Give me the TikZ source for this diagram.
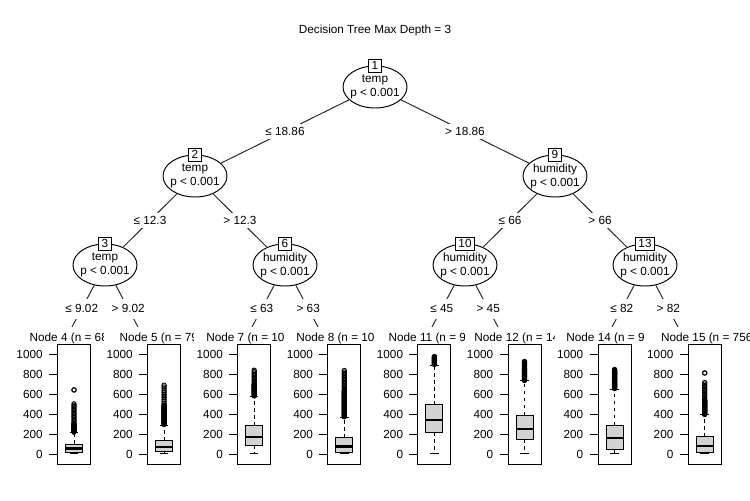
\documentclass[tikz,border=0pt]{standalone}
\usepackage{fontspec}
\setmainfont{Liberation Sans}
\usetikzlibrary{shapes.geometric}
\definecolor{boxgray}{RGB}{211,211,211}
\tikzset{
  split/.style={ellipse, draw, fill=white, line width=0.55pt, minimum width=1.28cm, minimum height=0.84cm, inner xsep=-1.5pt, inner ysep=0pt, align=center},
  idbox/.style={draw, fill=white, line width=0.55pt, inner xsep=1.6pt, inner ysep=0pt, minimum height=0.26cm, minimum width=0.26cm},
  elabel/.style={fill=white, inner xsep=1pt, inner ysep=0pt, minimum height=0.3cm},
  llabel/.style={elabel, minimum height=0.4cm},
  wire/.style={draw=black!85, line width=0.55pt},
  frame/.style={line width=0.5pt},
  whisk/.style={line width=0.5pt, dash pattern=on 2pt off 2pt},
  head/.style={inner sep=0pt, anchor=base west},
  ticklab/.style={inner sep=0pt, anchor=east},
}
% #1 node, #2 centre x, #3 header start, #4 header, #5 q1, #6 median, #7 q3, #8 upper whisker
\newcommand{\leafpanel}[8]{%
  \begin{scope}[shift={(#2,0)}]
    \fill[white] (-60,327) rectangle (30,480);
    \node[head] (head#1) at (#3,341) {#4};
    \draw[frame] (-16.5,344) rectangle (16.5,464);
    \foreach \yt in {0,200,...,1000}{
      \draw[frame] (-25,{454-\yt/10}) -- (-16.5,{454-\yt/10});
      \node[ticklab] (lab#1-\yt) at (-31,{454-\yt/10}) {\yt};
    }
    \draw[whisk] (0,{454-#7/10}) -- (0,{454-#8/10});
    \draw[whisk] (0,{454-#5/10}) -- (0,453.9);
    \draw[frame] (-4.25,{454-#8/10}) -- (4.25,{454-#8/10});
    \draw[frame] (-4.25,453.9) -- (4.25,453.9);
    \filldraw[frame, fill=boxgray] (-8.5,{454-#7/10}) rectangle (8.5,{454-#5/10});
    \draw[line width=1.2pt] (-8.5,{454-#6/10}) -- (8.5,{454-#6/10});
  \end{scope}}
% outliers: centre x, first, second, last
\newcommand{\outl}[4]{%
  \foreach \ov in {#2,#3,...,#4}
    \draw[frame] (#1,{454-\ov/10}) circle (0.044cm);}
\begin{document}
\begin{tikzpicture}[x=0.02cm, y=-0.02cm, font=\fontsize{6.7}{7.97}\selectfont]
  \useasboundingbox (0,0) rectangle (750,500);
  \node[anchor=base, inner sep=0pt] (title) at (375,34) {Decision Tree Max Depth = 3};

  % inner nodes
  \node[split] (n1) at (375,87) {temp\\p < 0.001};
  \node[split] (n2) at (195,176) {temp\\p < 0.001};
  \node[split] (n3) at (105,265) {temp\\p < 0.001};
  \node[split] (n6) at (285,265) {humidity\\p < 0.001};
  \node[split] (n9) at (555,176) {humidity\\p < 0.001};
  \node[split] (n10) at (465,265) {humidity\\p < 0.001};
  \node[split] (n13) at (645,265) {humidity\\p < 0.001};
  \foreach \i in {1,2,3,6,9,10,13}
    \node[idbox] (id\i) at (n\i.north) {\i};

  % leaf ends
  \coordinate (t4) at (72,327);
  \coordinate (t5) at (138,327);
  \coordinate (t7) at (252,327);
  \coordinate (t8) at (318,327);
  \coordinate (t11) at (432,327);
  \coordinate (t12) at (498,327);
  \coordinate (t14) at (612,327);
  \coordinate (t15) at (678,327);

  % edges
  \draw[wire] (n1) -- node[elabel] {≤ 18.86} (n2);
  \draw[wire] (n1) -- node[elabel] {> 18.86} (n9);
  \draw[wire] (n2) -- node[elabel] {≤ 12.3} (n3);
  \draw[wire] (n2) -- node[elabel] {> 12.3} (n6);
  \draw[wire] (n9) -- node[elabel] {≤ 66} (n10);
  \draw[wire] (n9) -- node[elabel] {> 66} (n13);
  \draw[wire] (n3) -- node[llabel, pos=.56] {≤ 9.02} (t4);
  \draw[wire] (n3) -- node[llabel, pos=.56] {> 9.02} (t5);
  \draw[wire] (n6) -- node[llabel, pos=.56] {≤ 63} (t7);
  \draw[wire] (n6) -- node[llabel, pos=.56] {> 63} (t8);
  \draw[wire] (n10) -- node[llabel, pos=.56] {≤ 45} (t11);
  \draw[wire] (n10) -- node[llabel, pos=.56] {> 45} (t12);
  \draw[wire] (n13) -- node[llabel, pos=.56] {≤ 82} (t14);
  \draw[wire] (n13) -- node[llabel, pos=.56] {> 82} (t15);

  % terminal panels
  \leafpanel{4}{74}{-44.7}{Node 4 (n = 688)}{15}{55}{100}{213}
  \outl{74}{218}{223}{308} \outl{74}{320}{334}{506} \outl{74}{640}{641}{640}
  \leafpanel{5}{164.1}{-44.8}{Node 5 (n = 795)}{23}{73}{132}{290}
  \outl{164.1}{295}{300}{480} \outl{164.1}{490}{508}{688}
  \leafpanel{7}{254.2}{-48.2}{Node 7 (n = 1042)}{88}{173}{282}{574}
  \outl{254.2}{580}{585}{700} \outl{254.2}{712}{726}{838}
  \leafpanel{8}{344.3}{-48.3}{Node 8 (n = 1033)}{20}{75}{164}{368}
  \outl{344.3}{372}{377}{640} \outl{344.3}{655}{670}{835}
  \leafpanel{11}{434.4}{-46.1}{Node 11 (n = 958)}{219}{338}{492}{889}
  \outl{434.4}{895}{900}{975}
  \leafpanel{12}{524.5}{-50.5}{Node 12 (n = 1456)}{148}{249}{387}{731}
  \outl{524.5}{735}{740}{860} \outl{524.5}{870}{878}{926}
  \leafpanel{14}{614.6}{-48.6}{Node 14 (n = 912)}{42}{163}{285}{650}
  \outl{614.6}{655}{660}{845}
  \leafpanel{15}{704.7}{-44}{Node 15 (n = 7561)}{20}{82}{173}{392}
  \outl{704.7}{395}{400}{540} \outl{704.7}{555}{571}{715} \outl{704.7}{810}{811}{810}
\end{tikzpicture}
\end{document}
